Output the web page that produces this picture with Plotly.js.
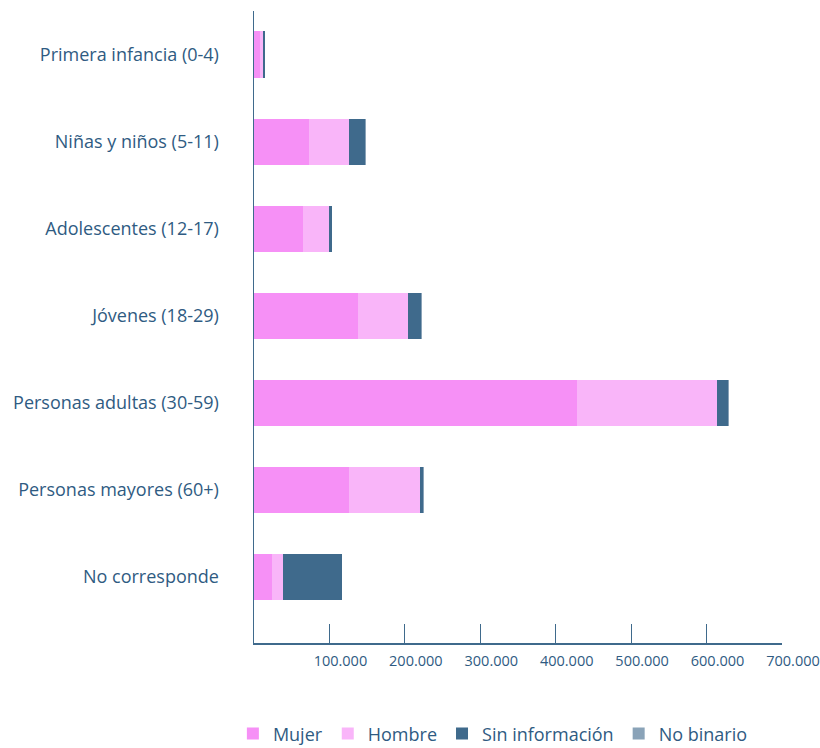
<!DOCTYPE html>
<html>
<head>
<meta charset="utf-8">
<script src="https://cdn.plot.ly/plotly-3.0.1.min.js"></script>
<style>html,body{margin:0;padding:0;background:#fff;}#chart{width:820px;height:748px;}</style>
</head>
<body>
<div id="chart"></div>
<script>
const categories = [
  "Primera infancia (0-4)",
  "Niñas y niños (5-11)",
  "Adolescentes (12-17)",
  "Jóvenes (18-29)",
  "Personas adultas (30-59)",
  "Personas mayores (60+)",
  "No corresponde"
];
const mujer = [8000, 73500, 64300, 138500, 428600, 126500, 23200];
const hombre = [4000, 53000, 34500, 65000, 185500, 94000, 14600];
const sinInformacion = [2600, 21200, 4000, 18500, 14600, 4000, 78200];
const noBinario = [200, 400, 300, 500, 900, 300, 1300];
const tickValues = [0, 100000, 200000, 300000, 400000, 500000, 600000, 700000];
const tickLabels = ["", "100.000", "200.000", "300.000", "400.000", "500.000", "600.000", "700.000"];

const textColor = "#2F5B82";
const series = [
  {name: "Mujer", x: mujer, color: "#F690F6"},
  {name: "Hombre", x: hombre, color: "#F9B5F9"},
  {name: "Sin información", x: sinInformacion, color: "#3F6A8C"},
  {name: "No binario", x: noBinario, color: "#8AA3B8"}
];
const traces = series.map(s => ({
  type: "bar",
  orientation: "h",
  name: s.name,
  x: s.x,
  y: categories,
  marker: {color: s.color, line: {width: 0}},
  hoverinfo: "x+name"
}));

const layout = {
  width: 820, height: 748,
  margin: {l: 254, r: 38, t: 11, b: 105, autoexpand: false},
  barmode: "stack",
  bargap: 0.47,
  paper_bgcolor: "#fff",
  plot_bgcolor: "#fff",
  font: {family: "Open Sans, sans-serif", color: textColor, size: 15},
  showlegend: true,
  legend: {
    orientation: "h", traceorder: "normal",
    xref: "container", yref: "container",
    x: 0.284, xanchor: "left", y: 0.019, yanchor: "middle",
    font: {size: 18, color: textColor},
    itemwidth: 30
  },
  xaxis: {
    range: [0, 700000],
    tickvals: tickValues, ticktext: tickLabels,
    ticks: "inside", ticklen: 19, tickwidth: 1, tickcolor: "#3F6A8C",
    showline: true, linecolor: "#3F6A8C", linewidth: 1.5,
    showgrid: false, zeroline: false, automargin: false,
    ticklabelshift: 11, ticklabelstandoff: 4, ticklabeloverflow: "allow",
    tickfont: {size: 14.5, color: textColor}
  },
  yaxis: {
    type: "category",
    categoryorder: "array", categoryarray: categories,
    range: [6.76, -0.5], automargin: false,
    showline: true, linecolor: "#3F6A8C", linewidth: 1.5,
    showgrid: false, zeroline: false, ticks: "",
    ticklabelstandoff: 30,
    tickfont: {size: 18, color: textColor}
  }
};
Plotly.newPlot("chart", traces, layout, {displayModeBar: false, staticPlot: true});
</script>
</body>
</html>
